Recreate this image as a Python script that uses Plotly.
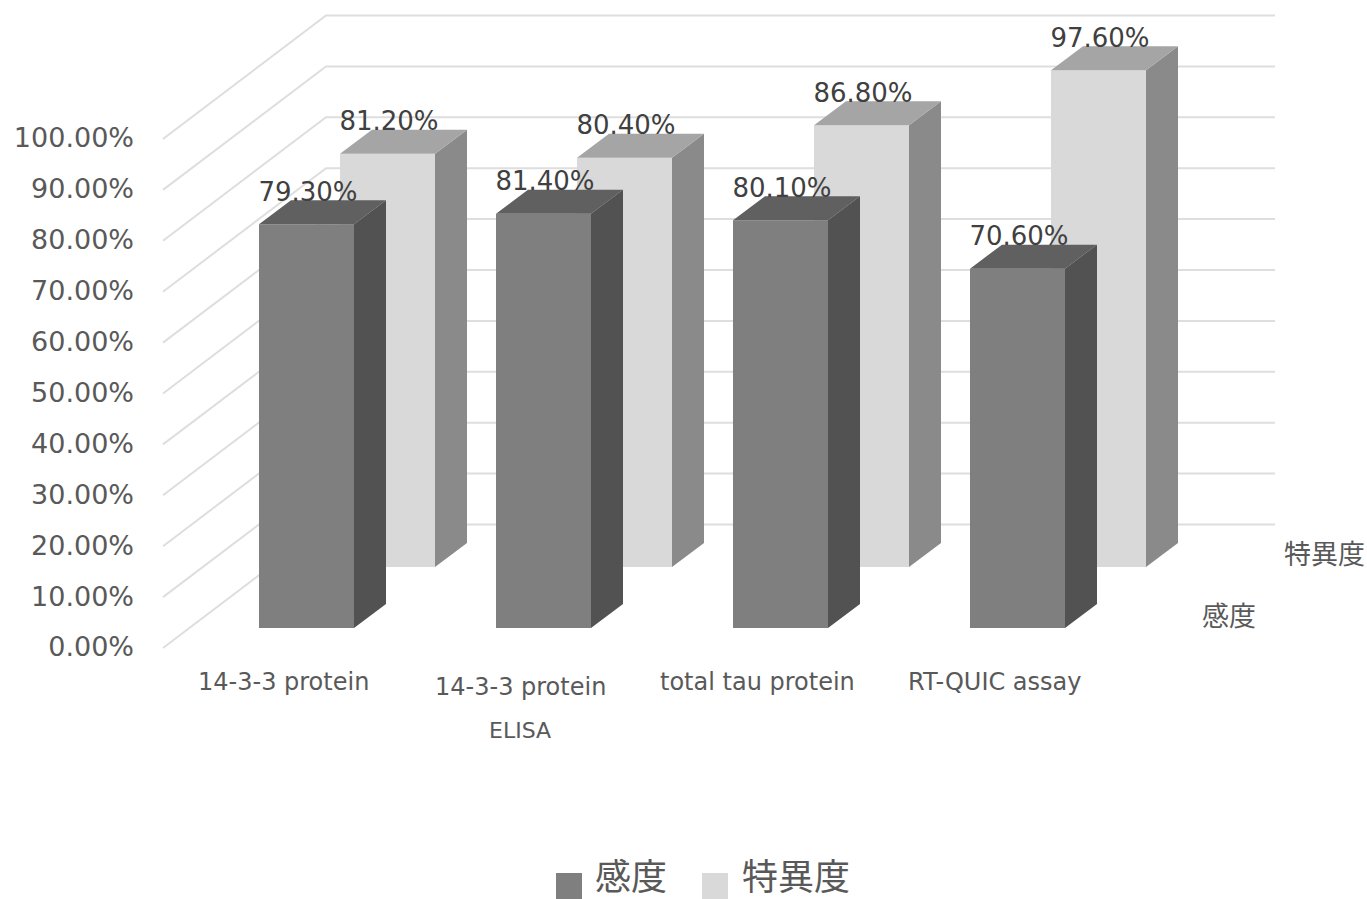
import plotly.graph_objects as go

# ---- data ----
categories = ["14-3-3 protein", "14-3-3 protein<br>ELISA", "total tau protein", "RT-QUIC assay"]
sensitivity = [79.3, 81.4, 80.1, 70.6]   # 感度
specificity = [81.2, 80.4, 86.8, 97.6]   # 特異度
series_names = ["感度", "特異度"]
y_ticks = [0, 10, 20, 30, 40, 50, 60, 70, 80, 90, 100]

# ---- layout geometry ----
W, H = 1367, 899
PX_PER_CAT = 237.0
PX_PER_PCT = 5.09
X0_PX, Y0_PX = 306.5, 648.0      # pixel position of category 0 / 0 %
LEFT = 136


def kx(px):
    return (px - X0_PX) / PX_PER_CAT


def vy(py):
    return (Y0_PX - py) / PX_PER_PCT


def dkx(px):
    return px / PX_PER_CAT


def dvy(px):
    return px / PX_PER_PCT


BAR_W = dkx(95)
DEPTH_X, DEPTH_Y = dkx(32), dvy(24)
FRONT_BASE = dvy(20)
BACK_BASE = dvy(81)
BACK_DX = dkx(81)
idx = list(range(len(categories)))

SANS = "DejaVu Sans, Noto Sans CJK JP, sans-serif"
CJK = "Noto Sans CJK JP, sans-serif"
TICK = "#595959"
LABEL = "#404040"
GRID = "#DEDEDE"

fig = go.Figure()

# ---- grid: side wall + back wall, behind all traces ----
grid_left = kx(163)
wall_x = kx(326)
wall_right = kx(1275)
wall_rise = dvy(123.5)
for t in y_ticks:
    fig.add_shape(
        type="path",
        xref="x", yref="y", layer="below",
        path=f"M {grid_left} {t} L {wall_x} {t + wall_rise} L {wall_right} {t + wall_rise}",
        line=dict(color=GRID, width=2),
    )


def side_poly(xc, base, values):
    xs, ys = [], []
    for k, v in zip(idx, values):
        r = k + xc + BAR_W / 2
        xs += [r, r + DEPTH_X, r + DEPTH_X, r, r, None]
        ys += [base, base + DEPTH_Y, base + v + DEPTH_Y, base + v, base, None]
    return xs, ys


def top_poly(xc, base, values):
    xs, ys = [], []
    for k, v in zip(idx, values):
        l = k + xc - BAR_W / 2
        r = k + xc + BAR_W / 2
        t = base + v
        xs += [l, r, r + DEPTH_X, l + DEPTH_X, l, None]
        ys += [t, t, t + DEPTH_Y, t + DEPTH_Y, t, None]
    return xs, ys


def face(fill_color, xs, ys, name):
    return go.Scatter(
        x=xs, y=ys, mode="lines", fill="toself", fillcolor=fill_color,
        line=dict(width=0, color=fill_color), name=name, showlegend=False, hoverinfo="skip",
    )


series = [
    (specificity, series_names[1], BACK_DX, BACK_BASE, "#D9D9D9", "#8A8A8A", "#A5A5A5"),
    (sensitivity, series_names[0], 0.0, FRONT_BASE, "#7F7F7F", "#525252", "#606060"),
]

for values, name, dx, base, c_face, c_side, c_top in series:
    fig.add_trace(go.Bar(
        x=[k + dx for k in idx], y=values, base=[base] * len(values), width=BAR_W,
        marker=dict(color=c_face, line=dict(width=0)), name=name, showlegend=False,
    ))
    fig.add_trace(face(c_side, *side_poly(dx, base, values), name + " side"))
    fig.add_trace(face(c_top, *top_poly(dx, base, values), name + " top"))

for values, name, dx, base, *_ in series:
    fig.add_trace(go.Scatter(
        x=[k + dx + dkx(1.5) for k in idx],
        y=[base + v + dvy(30) for v in values],
        mode="text", text=[f"{v:.2f}%" for v in values],
        textposition="middle center",
        textfont=dict(family=SANS, size=26, color=LABEL),
        showlegend=False, hoverinfo="skip", name=name + " labels", cliponaxis=False,
    ))

annotations = []


def note(text, px, py, size, family=CJK):
    annotations.append(dict(
        text=text, x=kx(px), y=vy(py), xref="x", yref="y", showarrow=False,
        xanchor="center", yanchor="middle",
        font=dict(family=family, size=size, color=TICK),
    ))


# category labels
for k, cat in zip(idx, categories):
    lines = cat.split("<br>")
    cx = X0_PX + k * PX_PER_CAT - 23.5
    if len(lines) == 1:
        note(lines[0], cx, 682, 24, SANS)
    else:
        note(lines[0], cx, 687, 24, SANS)
        note(lines[1], cx, 730, 22, SANS)

# depth axis labels
note(series_names[1], 1324, 552, 27)
note(series_names[0], 1229, 614, 27)

# legend
note(series_names[0], 631, 874, 36)
note(series_names[1], 795.5, 874, 36)
for (x0, x1), c in zip([(556, 582), (702, 728)], ["#7F7F7F", "#D9D9D9"]):
    fig.add_shape(type="rect", xref="x", yref="y",
                  x0=kx(x0), x1=kx(x1), y0=vy(873), y1=vy(899),
                  fillcolor=c, line=dict(width=0))

fig.update_layout(
    width=W, height=H,
    margin=dict(l=LEFT, r=0, t=0, b=0),
    paper_bgcolor="white", plot_bgcolor="white",
    barmode="overlay",
    showlegend=False,
    annotations=annotations,
    xaxis=dict(range=[kx(LEFT), kx(W)], visible=False, fixedrange=True),
    yaxis=dict(
        range=[vy(H), vy(0)],
        tickmode="array", tickvals=y_ticks,
        ticktext=[f"{t:.2f}%" for t in y_ticks],
        tickfont=dict(family=SANS, size=27, color=TICK),
        showgrid=False, zeroline=False, showline=False, ticks="", ticklen=0,
        ticklabelstandoff=1, ticklabelshift=-1,
        fixedrange=True,
    ),
)

fig.write_html(
    "out.html",
    config=dict(displayModeBar=False),
    post_script="document.body.style.margin='0';document.documentElement.style.overflow='hidden';",
)
